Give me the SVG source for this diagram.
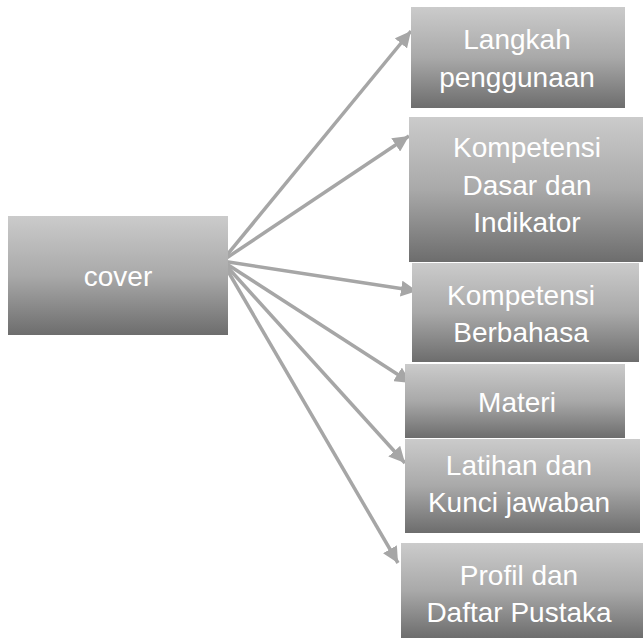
<svg xmlns="http://www.w3.org/2000/svg" width="644" height="641" viewBox="0 0 644 641">
<style>
.box{fill:url(#g);}
.t{font-family:"Liberation Sans",Arial,sans-serif;font-size:28px;fill:#ffffff;text-anchor:middle;}
.c{stroke:#a6a6a6;stroke-width:3.5;fill:none;marker-end:url(#ah);}
</style>
<defs>
<linearGradient id="g" x1="0" y1="0" x2="0" y2="1">
<stop offset="0" stop-color="#cbcbcb"/>
<stop offset="0.5" stop-color="#a9a9a9"/>
<stop offset="1" stop-color="#6d6d6d"/>
</linearGradient>
<marker id="ah" markerUnits="userSpaceOnUse" markerWidth="18" markerHeight="16" refX="16" refY="8" orient="auto">
<path d="M0,0 L16,8 L0,16 z" fill="#a6a6a6"/>
</marker>
</defs>
<g id="connectors">
<line class="c" x1="222" y1="261" x2="411" y2="31"/>
<line class="c" x1="222" y1="261" x2="409" y2="136"/>
<line class="c" x1="222" y1="261" x2="417" y2="291"/>
<line class="c" x1="222" y1="261" x2="411" y2="383"/>
<line class="c" x1="222" y1="261" x2="405" y2="463"/>
<line class="c" x1="222" y1="261" x2="398" y2="563"/>
</g>
<g id="cover"><rect class="box" x="8" y="216" width="220" height="119"/><text class="t" x="118" y="286">cover</text></g>
<g id="langkah"><rect class="box" x="411" y="7" width="214" height="101"/><text class="t" x="517" y="49">Langkah</text><text class="t" x="517" y="87">penggunaan</text></g>
<g id="kd"><rect class="box" x="409" y="117" width="234" height="145"/><text class="t" x="527" y="157">Kompetensi</text><text class="t" x="527" y="195">Dasar dan</text><text class="t" x="527" y="232">Indikator</text></g>
<g id="kb"><rect class="box" x="412" y="263" width="227" height="99"/><text class="t" x="521" y="305">Kompetensi</text><text class="t" x="521" y="342">Berbahasa</text></g>
<g id="materi"><rect class="box" x="405" y="364" width="220" height="74"/><text class="t" x="517" y="412">Materi</text></g>
<g id="latihan"><rect class="box" x="405" y="439" width="235" height="94"/><text class="t" x="519" y="475">Latihan dan</text><text class="t" x="519" y="512">Kunci jawaban</text></g>
<g id="profil"><rect class="box" x="401" y="543" width="242" height="95"/><text class="t" x="519" y="585">Profil dan</text><text class="t" x="519" y="622">Daftar Pustaka</text></g>
</svg>
